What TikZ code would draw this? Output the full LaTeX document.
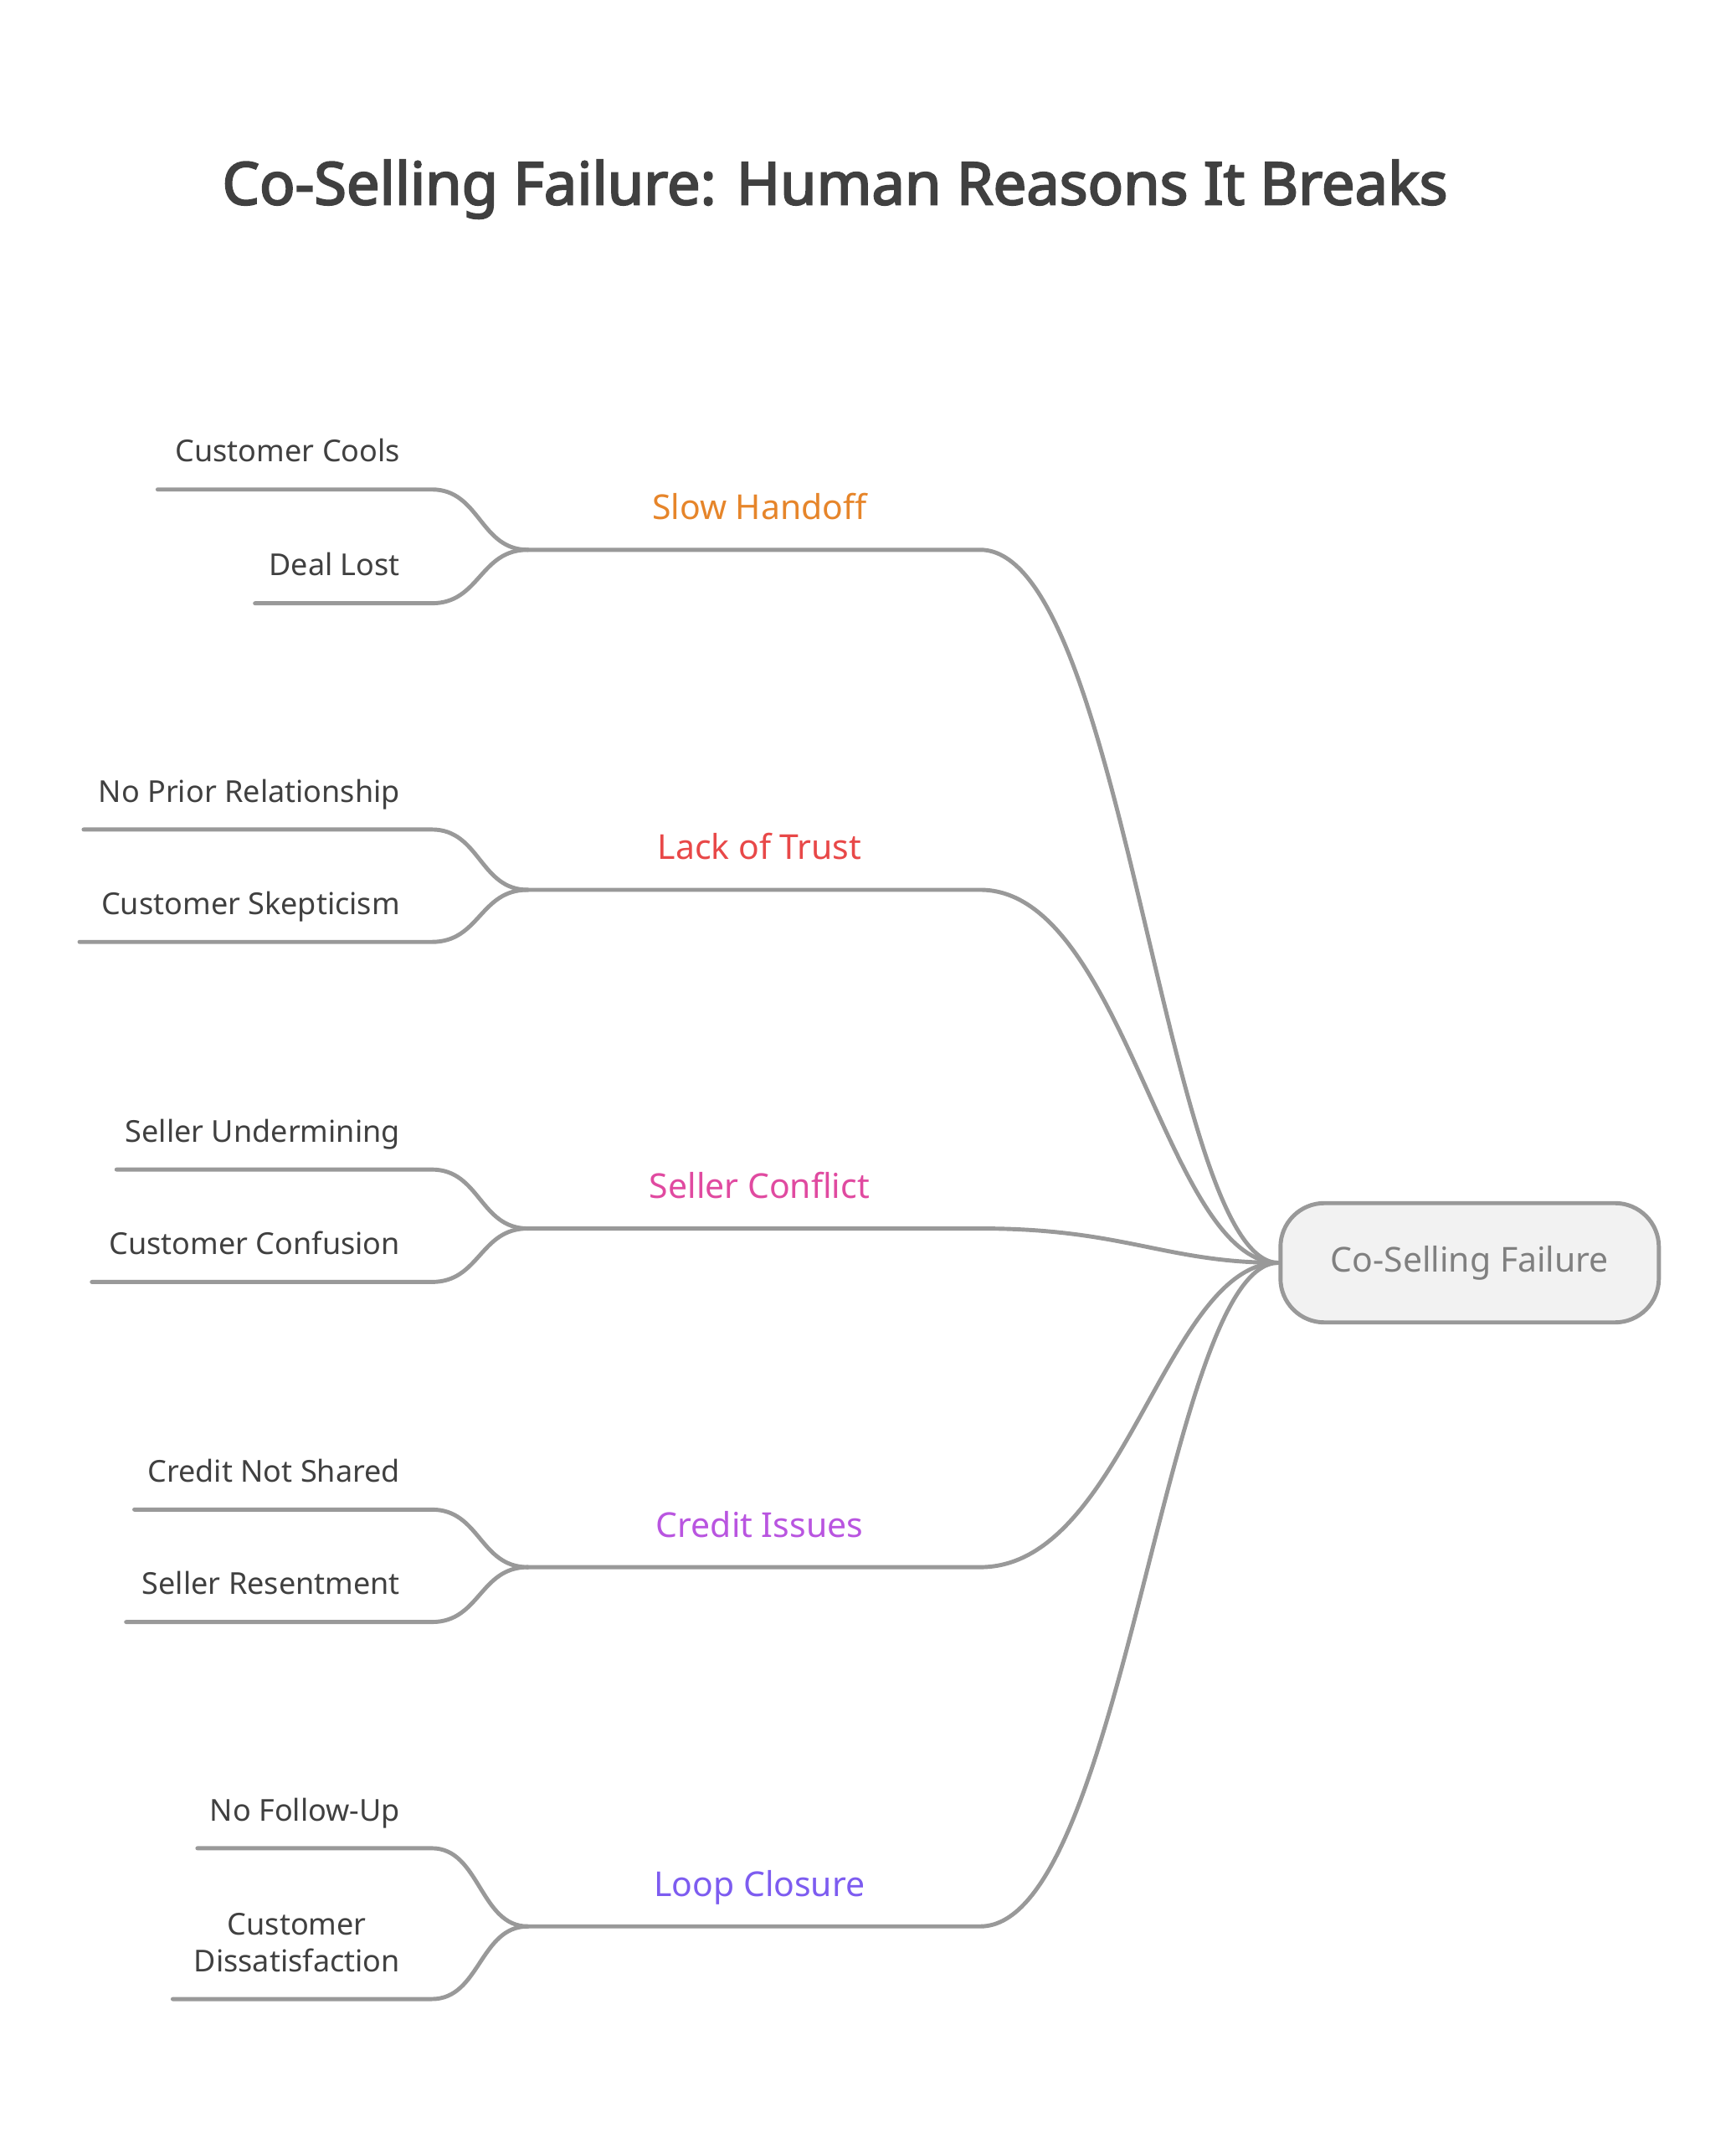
\documentclass[tikz,border=0pt]{standalone}
\usepackage{fontspec}
\setmainfont{Noto Sans}
\newfontfamily\titlefont{Noto Sans}[FakeBold=3]
\begin{document}
\begin{tikzpicture}[x=1pt,y=-1pt,
  ln/.style={draw=black!40,line width=3pt,line cap=round},
  lab/.style={font=\fontsize{22}{27}\selectfont,text=black!75,anchor=base east,inner sep=0},
  br/.style={font=\fontsize{25}{30}\selectfont,anchor=base,inner sep=0}]
\useasboundingbox (0,0) rectangle (1266,1563);
\definecolor{c1}{HTML}{E6852A}\definecolor{c2}{HTML}{E84848}
\definecolor{c3}{HTML}{E04AA0}\definecolor{c4}{HTML}{B955E0}\definecolor{c5}{HTML}{7D5CF0}
\node[font=\titlefont\fontsize{43}{50}\selectfont,text=black!75] (title) at (609,138) {Co-Selling Failure: Human Reasons It Breaks};
\node[draw=black!40,line width=3pt,fill=black!5,rounded corners=32pt,minimum width=276pt,minimum height=87pt,text=black!50,font=\fontsize{25}{30}\selectfont] (root) at (1072,921) {Co-Selling Failure};
\foreach \n/\y/\t/\c/\ya/\yb/\xa/\xb/\la/\lb in {
 a/401/Slow Handoff/c1/357/440/115/186/Customer Cools/Deal Lost,
 b/649/Lack of Trust/c2/605/687/61/58/No Prior Relationship/Customer Skepticism,
 c/896/Seller Conflict/c3/853/935/85/67/Seller Undermining/Customer Confusion,
 d/1143/Credit Issues/c4/1101/1183/98/92/Credit Not Shared/Seller Resentment}{
  \coordinate (\n1) at (715,\y); \coordinate (\n2) at (385,\y);
  \coordinate (\n3) at (315,\ya); \coordinate (\n4) at (\xa,\ya);
  \coordinate (\n5) at (315,\yb); \coordinate (\n6) at (\xb,\yb);
  \draw[ln] (root.west) .. controls (850,921) and (820,\y) .. (\n1) -- (\n2);
  \draw[ln] (\n2) .. controls (350,\y) and (350,\ya) .. (\n3) -- (\n4);
  \draw[ln] (\n2) .. controls (350,\y) and (350,\yb) .. (\n5) -- (\n6);
  \node[br,text=\c] (\n t) at (554,\y-22) {\t};
  \node[lab] (\n l1) at (292,\ya-20) {\la};
  \node[lab] (\n l2) at (292,\yb-20) {\lb};
}
\coordinate (e1) at (715,1405); \coordinate (e2) at (385,1405);
\coordinate (e3) at (315,1348); \coordinate (e4) at (144,1348);
\coordinate (e5) at (315,1458); \coordinate (e6) at (126,1458);
\draw[ln] (root.west) .. controls (850,921) and (820,1405) .. (e1) -- (e2);
\draw[ln] (e2) .. controls (350,1405) and (350,1348) .. (e3) -- (e4);
\draw[ln] (e2) .. controls (350,1405) and (350,1458) .. (e5) -- (e6);
\node[br,text=c5] (et) at (554,1383) {Loop Closure};
\node[lab] (el1) at (292,1328) {No Follow-Up};
\node[lab,align=center] (el2) at (292,1438) {Customer\\Dissatisfaction};
\end{tikzpicture}
\end{document}
